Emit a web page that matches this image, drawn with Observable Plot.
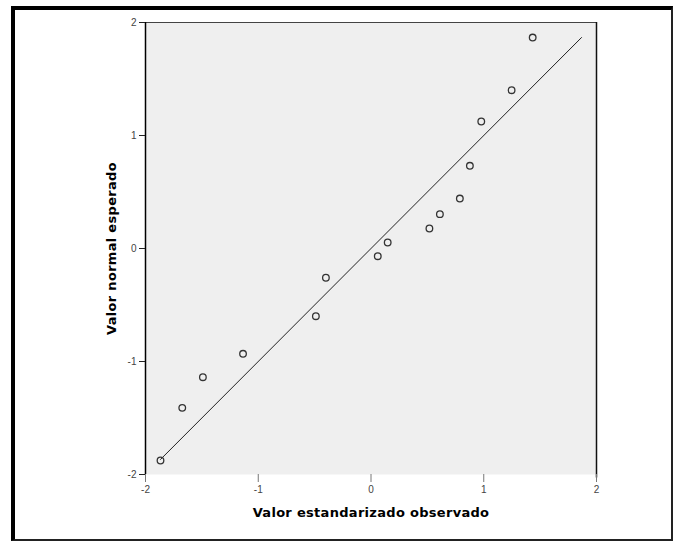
<!DOCTYPE html>
<html>
<head>
<meta charset="utf-8">
<script src="https://cdn.jsdelivr.net/npm/d3@7"></script>
<script src="https://cdn.jsdelivr.net/npm/@observablehq/plot@0.6"></script>
<style>
  html, body { margin: 0; padding: 0; background: #fff; }
  #wrap { position: relative; width: 674px; height: 542px; overflow: hidden; }
  #border { position: absolute; left: 11px; top: 6px; width: 656px; height: 529px;
            border-left: 4px solid #000; border-top: 4px solid #000;
            border-right: 2px solid #222; border-bottom: 2px solid #222; pointer-events: none; }
  #chart { position: absolute; left: 0; top: 0; }
  #chart svg g[aria-label="x-axis label"] text,
  #chart svg g[aria-label="y-axis label"] text { font-family: "DejaVu Sans", sans-serif; font-weight: bold; font-size: 13px; letter-spacing: 0.3px; fill: #000; }
  #chart svg g[aria-label="x-axis tick label"] text,
  #chart svg g[aria-label="y-axis tick label"] text { fill: #444; }
</style>
</head>
<body>
<div id="wrap"><div id="chart"></div><div id="border"></div></div>
<script>
// Observed standardized values (x) and expected normal values (y)
const observed = [-1.867, -1.674, -1.491, -1.135, -0.489, -0.40, 0.06, 0.148, 0.518, 0.611, 0.788, 0.877, 0.978, 1.247, 1.434];
const expected = [-1.876, -1.410, -1.139, -0.932, -0.599, -0.259, -0.068, 0.053, 0.177, 0.304, 0.442, 0.732, 1.124, 1.401, 1.867];
const refLine = [-1.867, 1.867];
const ticks = [-2, -1, 0, 1, 2];
const xTitle = "Valor estandarizado observado";
const yTitle = "Valor normal esperado";

const points = observed.map((x, i) => ({x, y: expected[i]}));
const line = refLine.map(v => ({x: v, y: v}));

const chart = Plot.plot({
  width: 674,
  height: 542,
  marginLeft: 145,
  marginRight: 78,
  marginTop: 22,
  marginBottom: 68,
  style: {fontFamily: "'Liberation Sans', Arial, sans-serif", fontSize: "10px", background: "transparent", overflow: "visible"},
  x: {domain: [-2, 2], ticks: ticks},
  y: {domain: [-2, 2], ticks: ticks},
  marks: [
    Plot.frame({fill: "#efefef", stroke: null}),
    Plot.ruleY([2], {stroke: "#444", strokeWidth: 1.2}),
    Plot.ruleX([2], {stroke: "#111", strokeWidth: 1.5, y1: -2.03, y2: 2}),
    Plot.ruleX([-2], {stroke: "#000", strokeWidth: 1.5}),
    Plot.axisX({ticks: ticks, tickSize: 8, tickPadding: 3, stroke: "#777", label: xTitle, labelAnchor: "center", labelOffset: 42, labelArrow: "none", tickFormat: d => String(d)}),
    Plot.axisY({ticks: ticks, tickSize: 6, tickPadding: 3, stroke: "#222", label: yTitle, labelAnchor: "center", labelOffset: 39, labelArrow: "none", tickFormat: d => String(d)}),
    Plot.line(line, {x: "x", y: "y", stroke: "#222", strokeWidth: 1}),
    Plot.dot(points, {x: "x", y: "y", r: 3.3, stroke: "#333", strokeWidth: 1.3, fill: "none"})
  ]
});
document.getElementById("chart").appendChild(chart);
</script>
</body>
</html>
